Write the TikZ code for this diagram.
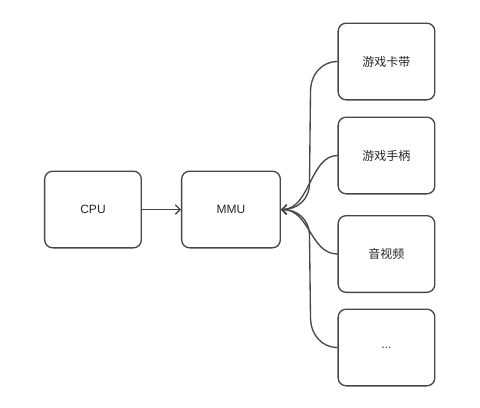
\documentclass[tikz,border=0pt]{standalone}
\usepackage{fontspec}
\setmainfont{Liberation Sans}
\newfontfamily\cjk{Noto Sans CJK SC}
\usetikzlibrary{arrows.meta}

\tikzset{
  blk/.style={draw=black!72, line width=1pt, rounded corners=6pt, fill=white,
    minimum width=72.5pt, minimum height=57.5pt, inner sep=0pt,
    font=\fontsize{9}{11}\selectfont, text=black!85},
  lnk/.style={draw=black!72, line width=1pt, -{Straight Barb[length=3.5pt,width=7pt]}},
}

\begin{document}
\begin{tikzpicture}[x=0.75pt,y=-0.75pt]
\useasboundingbox (0,0) rectangle (480,408);

% left side
\node[blk] (cpu) at (93,209.5) {CPU};
\node[blk, minimum width=74pt] (mmu) at (231,209.5) {MMU};

% devices
\node[blk] (card) at (386.5,61.5) {\cjk 游戏卡带};
\node[blk] (pad) at (386.5,155.5) {\cjk 游戏手柄};
\node[blk] (av) at (386.5,254) {\cjk 音视频};
\node[blk] (more) at (386.5,347.5) {...};

\draw[lnk] (cpu) -- (mmu);

\draw[lnk] (card.west) .. controls (322,61.5) and (310.5,74) .. (310.5,92) -- (309.5,183) .. controls (309.5,200) and (297,209.5) .. (mmu.east);
\draw[lnk] (pad.west) .. controls (310,155.5) and (310,209.5) .. (mmu.east);
\draw[lnk] (av.west) .. controls (310,254) and (310,209.5) .. (mmu.east);
\draw[lnk] (more.west) .. controls (322,347.5) and (310.5,335) .. (310.5,317) -- (309.5,236) .. controls (309.5,219) and (297,209.5) .. (mmu.east);
\end{tikzpicture}
\end{document}
